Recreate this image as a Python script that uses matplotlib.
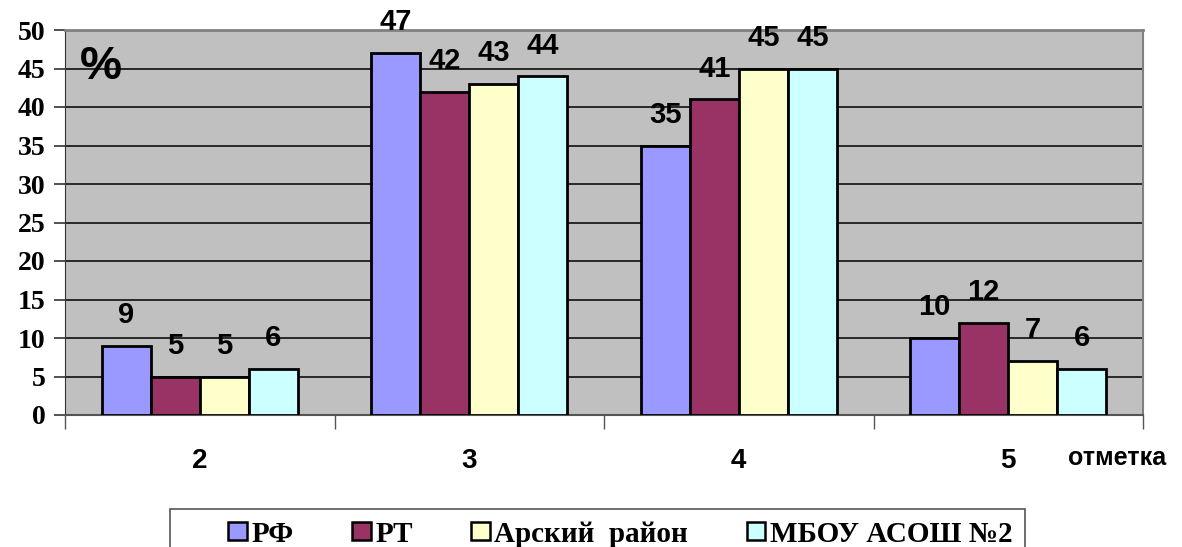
import numpy as np
import matplotlib
matplotlib.use("Agg")
import matplotlib.pyplot as plt
from matplotlib.patches import Patch, Rectangle

otmetki = ["2", "3", "4", "5"]
serii = ["РФ", "РТ", "Арский  район", "МБОУ АСОШ №2"]
rf = [9, 47, 35, 10]
rt = [5, 42, 41, 12]
arsk = [5, 43, 45, 7]
shkola = [6, 44, 45, 6]
dannye = [rf, rt, arsk, shkola]
tsveta = ["#9999FF", "#993366", "#FFFFCC", "#CCFFFF"]

shrift = "Liberation Sans"

fig = plt.figure(figsize=(11.82, 5.47), dpi=100)
ax = fig.add_axes([65 / 1182, 1 - 415 / 547, (1143 - 65) / 1182, (415 - 30) / 547])
ax.set_facecolor("#C0C0C0")

x = np.arange(len(otmetki))
shirina = 0.182
for i, (vals, c) in enumerate(zip(dannye, tsveta)):
    pos = x + (i - 1.5) * shirina
    bars = ax.bar(pos, vals, shirina, color=c, edgecolor="black", linewidth=2, zorder=3)
    for b, v in zip(bars, vals):
        ax.annotate(str(v), (b.get_x() + b.get_width() / 2, v), xytext=(0, 12),
                    textcoords="offset points", ha="center", va="bottom",
                    fontsize=21, fontweight="bold", family=shrift)

ax.set_xlim(-0.5, 3.5)
ax.set_ylim(0, 50)
ax.set_yticks(range(0, 51, 5))
ax.set_yticklabels([str(v) for v in range(0, 51, 5)], fontsize=20, fontweight="bold",
                   family="Liberation Serif")
ax.tick_params(axis="y", direction="out", length=8, width=1.2, color="#333333", pad=6)
for yv in range(5, 50, 5):
    ax.axhline(yv, color="black", linewidth=1.1, zorder=1)

ax.set_xticks(x)
ax.set_xticklabels(otmetki, fontsize=20, fontweight="bold", family=shrift)
ax.tick_params(axis="x", length=0, pad=24)
ax.set_xticks(np.arange(-0.5, 3.6, 1), minor=True)
ax.tick_params(axis="x", which="minor", direction="out", length=10, width=1, color="#555555")

ax.spines["top"].set_color("#808080")
ax.spines["right"].set_color("#808080")
ax.spines["top"].set_linewidth(2)
ax.spines["right"].set_linewidth(1.5)
ax.spines["left"].set_color("#333333")
ax.spines["bottom"].set_color("#555555")
ax.spines["bottom"].set_linewidth(1.5)

ax.text(0.014, 0.96, "%", transform=ax.transAxes, fontsize=34, fontweight="bold",
        family="Liberation Sans", va="top", ha="left")
fig.text(1068 / 1182, 1 - 458 / 547, "отметка", fontsize=18, fontweight="bold",
         family=shrift, va="center", ha="left")

# рамка легенды
fig.add_artist(Rectangle((170 / 1182, -0.05), (1025 - 170) / 1182, 1 - 509 / 547 + 0.05,
                         transform=fig.transFigure, fill=False, edgecolor="#555555",
                         linewidth=1.2))
ruchki = [Patch(facecolor=c, edgecolor="black", linewidth=1.8) for c in tsveta]
leg = fig.legend(ruchki, serii, loc="center left", bbox_to_anchor=(228 / 1182, 1 - 534 / 547),
                 ncol=4, frameon=False,
                 prop={"family": "Liberation Serif", "weight": "bold", "size": 21},
                 handlelength=0.65, handleheight=0.6, handletextpad=0.15, columnspacing=2.0,
                 borderpad=0, borderaxespad=0)

fig.savefig("out.png", dpi=100)
